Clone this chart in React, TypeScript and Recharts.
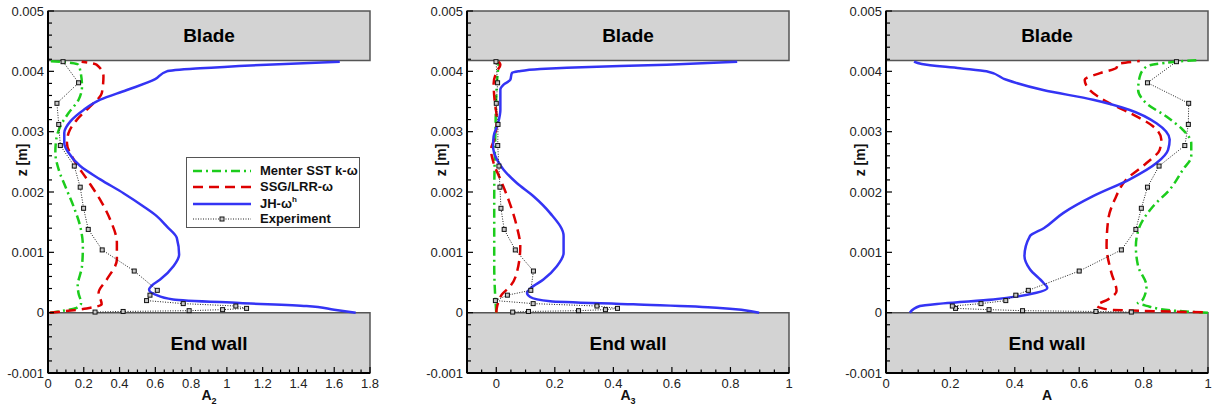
import React from "react";
import {
  ComposedChart,
  Line,
  XAxis,
  YAxis,
  ReferenceArea,
  Label,
} from "recharts";

// wall-normal positions of the measured points [m]
const expZ = [
  0.00001, 0.00002, 0.000033, 0.00005, 0.000071, 0.00011, 0.00015, 0.0002,
  0.00029, 0.00037, 0.00069, 0.00104, 0.00138, 0.00173, 0.00208, 0.00243,
  0.00277, 0.00312, 0.00347, 0.00381, 0.00416,
];

const a2Exp = [
  0.263, 0.42, 0.789, 0.976, 1.11, 1.05, 0.756, 0.551, 0.57, 0.611, 0.482,
  0.303, 0.225, 0.199, 0.18, 0.147, 0.069, 0.06, 0.05, 0.171, 0.084,
];
const a3Exp = [
  0.056, 0.11, 0.281, 0.373, 0.414, 0.344, 0.126, -0.003, 0.038, 0.118, 0.127,
  0.065, 0.027, 0.016, 0.0125, 0.009, 0.005, 0.006, 0.0, 0.0045, -0.001,
];
const aExp = [
  0.762, 0.652, 0.424, 0.32, 0.216, 0.206, 0.295, 0.372, 0.403, 0.442, 0.6,
  0.731, 0.776, 0.793, 0.812, 0.848, 0.928, 0.939, 0.94, 0.812, 0.902,
];

// model profiles as [value, z]
const a2Menter = [
  [0.011, 0], [0.1, 0.00004], [0.16, 0.00008], [0.185, 0.00016], [0.17, 0.00033],
  [0.166, 0.00044], [0.19, 0.00077], [0.195, 0.0011], [0.18, 0.00143],
  [0.143, 0.00176], [0.097, 0.00209], [0.06, 0.00237], [0.041, 0.00265],
  [0.046, 0.00287], [0.069, 0.00309], [0.115, 0.00331], [0.171, 0.00353],
  [0.19, 0.00375], [0.179, 0.00403], [0.17, 0.00411], [0.132, 0.00414],
  [0.011, 0.00417],
];
const a2Ssg = [
  [0.01, 0], [0.216, 0.00007], [0.3, 0.00014], [0.283, 0.00033], [0.329, 0.00055],
  [0.385, 0.00088], [0.385, 0.00116], [0.348, 0.00154], [0.292, 0.00187],
  [0.218, 0.00221], [0.143, 0.00254], [0.106, 0.00281], [0.115, 0.00298],
  [0.162, 0.0032], [0.236, 0.00342], [0.301, 0.00364], [0.31, 0.00392],
  [0.272, 0.00411], [0.188, 0.00416],
];
const a2Jh = [
  [1.72, 0], [1.6, 0.00005], [1.445, 0.00011], [1.07, 0.00016], [0.7, 0.00022],
  [0.6, 0.0003], [0.565, 0.00038], [0.58, 0.00045], [0.627, 0.00055],
  [0.701, 0.00077], [0.733, 0.00096], [0.72, 0.00124], [0.664, 0.00143],
  [0.608, 0.0016], [0.534, 0.00176], [0.422, 0.00198], [0.292, 0.00221],
  [0.18, 0.00243], [0.115, 0.00265], [0.091, 0.00281], [0.091, 0.00298],
  [0.125, 0.00317], [0.199, 0.00336], [0.292, 0.00353], [0.441, 0.00369],
  [0.599, 0.00387], [0.664, 0.004], [0.85, 0.00405], [1.222, 0.00411],
  [1.631, 0.00416],
];

const a3Menter = [
  [0, 0], [-0.003, 0.00022], [-0.007, 0.00077], [-0.007, 0.0019],
  [-0.003, 0.003], [0.002, 0.0038], [0.009, 0.00416],
];
const a3Ssg = [
  [0, 0], [0.002, 0.00008], [0.008, 0.00019], [0.019, 0.0003], [0.048, 0.00044],
  [0.07, 0.00066], [0.082, 0.0011], [0.07, 0.00143], [0.042, 0.00187],
  [0.014, 0.00221], [-0.009, 0.00248], [-0.018, 0.0027], [-0.007, 0.00287],
  [0.002, 0.0032], [-0.006, 0.00353], [-0.009, 0.0038], [0.002, 0.004],
  [0.014, 0.00411], [0.008, 0.00416],
];
const a3Jh = [
  [0.898, 0], [0.752, 0.000083], [0.468, 0.000138], [0.184, 0.00019],
  [0.116, 0.00026], [0.105, 0.00033], [0.116, 0.0004], [0.161, 0.00055],
  [0.207, 0.00077], [0.23, 0.00099], [0.23, 0.00127], [0.184, 0.00165],
  [0.127, 0.00193], [0.07, 0.00215], [0.025, 0.00237], [0.002, 0.00254],
  [-0.011, 0.00276], [-0.009, 0.00292], [0.006, 0.00314], [0.014, 0.00336],
  [0.014, 0.0037], [0.025, 0.00378], [0.048, 0.00386], [0.053, 0.00397],
  [0.076, 0.004], [0.15, 0.00404], [0.241, 0.00406], [0.582, 0.00411],
  [0.823, 0.00416],
];

const aMenter = [
  [1.0, 0], [0.902, 0.00003], [0.809, 0.000113], [0.782, 0.000165],
  [0.798, 0.00022], [0.809, 0.00044], [0.783, 0.00077], [0.776, 0.0011],
  [0.788, 0.00143], [0.829, 0.00176], [0.881, 0.00204], [0.922, 0.00237],
  [0.948, 0.00259], [0.948, 0.00281], [0.922, 0.00303], [0.871, 0.00325],
  [0.809, 0.00347], [0.783, 0.00369], [0.788, 0.00391], [0.809, 0.00408],
  [0.902, 0.00416], [0.975, 0.00419],
];
const aSsg = [
  [0.984, 0.000005], [0.8, 0.00003], [0.69, 0.00005], [0.654, 0.00012],
  [0.69, 0.00022], [0.716, 0.00036], [0.7, 0.00066], [0.685, 0.0011],
  [0.69, 0.00154], [0.71, 0.00187], [0.747, 0.00221], [0.809, 0.00248],
  [0.85, 0.0027], [0.855, 0.00287], [0.829, 0.00309], [0.757, 0.00331],
  [0.695, 0.00347], [0.633, 0.00369], [0.617, 0.00386], [0.665, 0.00397],
  [0.716, 0.00406], [0.72, 0.00412], [0.788, 0.00417],
];
const aJh = [
  [0.074, 0], [0.105, 0.00011], [0.178, 0.000154], [0.333, 0.00022],
  [0.467, 0.00033], [0.501, 0.00041], [0.488, 0.0005], [0.447, 0.00072],
  [0.43, 0.00094], [0.447, 0.00127], [0.49, 0.0014], [0.55, 0.00165],
  [0.643, 0.00193], [0.757, 0.00221], [0.84, 0.00248], [0.876, 0.0027],
  [0.881, 0.00287], [0.84, 0.00314], [0.757, 0.00336], [0.643, 0.00353],
  [0.488, 0.00369], [0.374, 0.00386], [0.312, 0.004], [0.23, 0.00405],
  [0.111, 0.00412], [0.087, 0.00416],
];

const yMajor = [-0.001, 0, 0.001, 0.002, 0.003, 0.004, 0.005];
const xMajorA2 = [0, 0.2, 0.4, 0.6, 0.8, 1, 1.2, 1.4, 1.6, 1.8];
const xMajorUnit = [0, 0.2, 0.4, 0.6, 0.8, 1];

const BLADE_Z = 0.00418;
const FONT = "'Liberation Sans', Arial, sans-serif";

const GREEN = "#1ccc1c";
const RED = "#dd0000";
const BLUE = "#3434f4";

const pts = (arr: number[][]) => arr.map(([x, z]) => ({ x, z }));
const expPts = (xs: number[]) => xs.map((x, i) => ({ x, z: expZ[i] }));

const steps = (lo: number, hi: number, step: number) => {
  const n = Math.round((hi - lo) / step);
  return Array.from({ length: n + 1 }, (_, i) => +(lo + i * step).toFixed(6));
};
const yTicks = steps(-0.001, 0.005, 0.0002);

const findMajor = (v: number, majors: number[]) =>
  majors.find((m) => Math.abs(m - v) < 1e-9);

const ExpDot = (props: any) => {
  const { cx, cy } = props;
  if (cx == null || cy == null) return null;
  return (
    <rect x={cx - 2} y={cy - 2} width={4} height={4} fill="#c8c8c8" stroke="#111" strokeWidth={1} />
  );
};

const makeYTick = () => (props: any) => {
  const { x, y, payload } = props;
  const m = findMajor(payload.value, yMajor);
  return (
    <g>
      <line x1={x} x2={x + (m !== undefined ? 6 : 4)} y1={y} y2={y} stroke="#000" strokeWidth={1.2} />
      {m !== undefined && (
        <text x={x - 4} y={y} dy={4.6} textAnchor="end" fontSize={13} fill="#222" fontFamily={FONT}>
          {String(m)}
        </text>
      )}
    </g>
  );
};

const makeXTick = (majors: number[]) => (props: any) => {
  const { x, y, payload } = props;
  const m = findMajor(payload.value, majors);
  return (
    <g>
      <line x1={x} x2={x} y1={y} y2={y - (m !== undefined ? 6 : 3.5)} stroke="#000" strokeWidth={1.2} />
      {m !== undefined && (
        <text x={x} y={y + 14.5} textAnchor="middle" fontSize={13} fill="#222" fontFamily={FONT}>
          {String(m)}
        </text>
      )}
    </g>
  );
};

type PanelProps = {
  left: number;
  width: number;
  yAxisWidth: number;
  right: number;
  domain: [number, number];
  xMajor: number[];
  sub: string;
  menter: number[][];
  ssg: number[][];
  jh: number[][];
  exp: number[];
};

function Panel(p: PanelProps) {
  const xTicks = steps(p.domain[0], p.domain[1], 0.05);
  return (
    <div style={{ position: "absolute", left: p.left, top: 0 }}>
      <ComposedChart
        width={p.width}
        height={409}
        margin={{ top: 11, right: p.right, left: 0, bottom: 0 }}
      >
        <ReferenceArea
          x1={p.domain[0]}
          x2={p.domain[1]}
          y1={BLADE_Z}
          y2={0.005}
          fill="#d3d3d3"
          fillOpacity={1}
          stroke="#555"
          strokeWidth={1.5}
          label={{ value: "Blade", position: "center", fontSize: 19, fontWeight: "bold", fill: "#000", fontFamily: FONT }}
        />
        <ReferenceArea
          x1={p.domain[0]}
          x2={p.domain[1]}
          y1={-0.001}
          y2={0}
          fill="#d3d3d3"
          fillOpacity={1}
          stroke="#555"
          strokeWidth={1.5}
          label={{ value: "End wall", position: "center", fontSize: 19, fontWeight: "bold", fill: "#000", fontFamily: FONT }}
        />
        <XAxis
          type="number"
          dataKey="x"
          domain={p.domain}
          allowDataOverflow
          ticks={xTicks}
          interval={0}
          tickSize={0}
          tickMargin={0}
          tickLine={false}
          tick={makeXTick(p.xMajor)}
          height={36}
          axisLine={{ stroke: "#000", strokeWidth: 2 }}
        >
          <Label
            content={(lp: any) => {
              const vb = lp.viewBox || {};
              return (
                <text
                  x={vb.x + vb.width / 2}
                  y={400}
                  textAnchor="middle"
                  fontSize={14}
                  fontWeight="bold"
                  fill="#111"
                  fontFamily={FONT}
                >
                  A
                  {p.sub && (
                    <tspan fontSize={9} dy={4}>
                      {p.sub}
                    </tspan>
                  )}
                </text>
              );
            }}
          />
        </XAxis>
        <YAxis
          type="number"
          domain={[-0.001, 0.005]}
          allowDataOverflow
          ticks={yTicks}
          interval={0}
          tickSize={0}
          tickMargin={0}
          tickLine={false}
          tick={makeYTick()}
          width={p.yAxisWidth}
          axisLine={{ stroke: "#000", strokeWidth: 2 }}
        >
          <Label
            content={(lp: any) => {
              const vb = lp.viewBox || {};
              const cx = vb.x + vb.width - 26;
              return (
                <text
                  x={cx}
                  y={160}
                  transform={`rotate(-90 ${cx} 160)`}
                  textAnchor="middle"
                  dy={5}
                  fontSize={14}
                  fontWeight="bold"
                  fill="#111"
                  fontFamily={FONT}
                >
                  z [m]
                </text>
              );
            }}
          />
        </YAxis>
        <Line
          data={pts(p.menter)}
          dataKey="z"
          type="monotoneY"
          stroke={GREEN}
          strokeWidth={2.5}
          strokeDasharray="9 4 2 4"
          dot={false}
          isAnimationActive={false}
        />
        <Line
          data={pts(p.ssg)}
          dataKey="z"
          type="monotoneY"
          stroke={RED}
          strokeWidth={2.5}
          strokeDasharray="10 6"
          dot={false}
          isAnimationActive={false}
        />
        <Line
          data={pts(p.jh)}
          dataKey="z"
          type="monotoneY"
          stroke={BLUE}
          strokeWidth={2.5}
          dot={false}
          isAnimationActive={false}
        />
        <Line
          data={expPts(p.exp)}
          dataKey="z"
          type="linear"
          stroke="#222"
          strokeWidth={1}
          strokeDasharray="1 1.5"
          dot={<ExpDot />}
          isAnimationActive={false}
        />
      </ComposedChart>
    </div>
  );
}

const legendRows = [
  { name: "Menter SST k-ω", color: GREEN, dash: "9 4 2 4", width: 2.5, sup: "" },
  { name: "SSG/LRR-ω", color: RED, dash: "10 6", width: 2.5, sup: "" },
  { name: "JH-ω", color: BLUE, dash: "", width: 2.5, sup: "h" },
  { name: "Experiment", color: "#222", dash: "1 1.5", width: 1, sup: "" },
];

function LegendBox() {
  return (
    <div
      style={{
        position: "absolute",
        left: 186,
        top: 157,
        width: 172,
        height: 69,
        border: "1px solid #555",
        background: "#fff",
        fontFamily: FONT,
      }}
    >
      {legendRows.map((r, i) => {
        const cy = [13, 29, 45.5, 61][i];
        return (
          <div key={r.name} style={{ position: "absolute", left: 0, top: cy - 8, height: 16, width: 172 }}>
            <svg width={60} height={16} style={{ position: "absolute", left: 5, top: 0 }}>
              <line x1={1} x2={59} y1={8} y2={8} stroke={r.color} strokeWidth={r.width} strokeDasharray={r.dash || undefined} />
              {r.name === "Experiment" && (
                <rect x={28} y={6} width={4} height={4} fill="#c8c8c8" stroke="#111" strokeWidth={1} />
              )}
            </svg>
            <span
              style={{
                position: "absolute",
                left: 73,
                top: 0,
                fontSize: 13,
                fontWeight: "bold",
                lineHeight: "16px",
                color: "#111",
                whiteSpace: "nowrap",
              }}
            >
              {r.name}
              {r.sup && (
                <span style={{ fontSize: 8, position: "relative", top: -6 }}>{r.sup}</span>
              )}
            </span>
          </div>
        );
      })}
    </div>
  );
}

export default function App() {
  return (
    <div
      style={{
        position: "absolute",
        left: 0,
        top: 0,
        width: 1214,
        height: 409,
        background: "#fff",
        fontFamily: FONT,
      }}
    >
      <Panel
        left={0}
        width={380}
        yAxisWidth={48}
        right={10}
        domain={[0, 1.8]}
        xMajor={xMajorA2}
        sub="2"
        menter={a2Menter}
        ssg={a2Ssg}
        jh={a2Jh}
        exp={a2Exp}
      />
      <Panel
        left={400}
        width={400}
        yAxisWidth={67}
        right={11}
        domain={[-0.1, 1]}
        xMajor={xMajorUnit}
        sub="3"
        menter={a3Menter}
        ssg={a3Ssg}
        jh={a3Jh}
        exp={a3Exp}
      />
      <Panel
        left={810}
        width={404}
        yAxisWidth={76}
        right={6}
        domain={[0, 1]}
        xMajor={xMajorUnit}
        sub=""
        menter={aMenter}
        ssg={aSsg}
        jh={aJh}
        exp={aExp}
      />
      <LegendBox />
    </div>
  );
}
